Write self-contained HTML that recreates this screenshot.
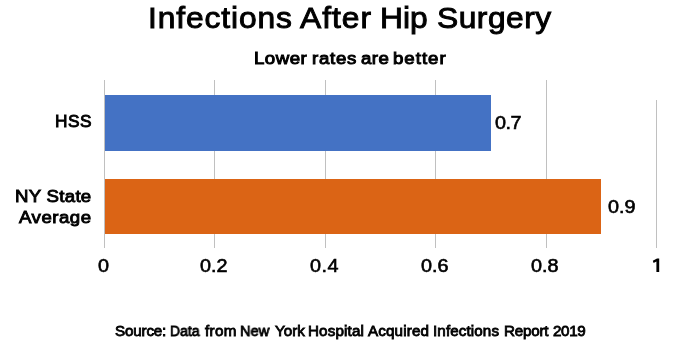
<!DOCTYPE html>
<html><head><meta charset="utf-8">
<style>
html,body{margin:0;padding:0;background:#fff;}
body{width:700px;height:363px;position:relative;overflow:hidden;font-family:"Liberation Sans",sans-serif;color:#000;}
.t{position:absolute;white-space:nowrap;line-height:1;font-weight:normal;will-change:transform;}
.g{position:absolute;width:1px;background:#c0c0c0;}
.bar{position:absolute;}
</style></head><body>
<div class="g" style="left:104px;top:80px;height:168px;"></div>
<div class="g" style="left:214px;top:80px;height:168px;"></div>
<div class="g" style="left:325px;top:80px;height:168px;"></div>
<div class="g" style="left:435px;top:80px;height:168px;"></div>
<div class="g" style="left:546px;top:80px;height:168px;"></div>
<div class="g" style="left:656px;top:100px;height:148px;"></div>
<div class="bar" style="left:105px;top:95px;width:386px;height:56px;background:#4472c4;"></div>
<div class="bar" style="left:105px;top:179px;width:496px;height:55px;background:#db6415;"></div>
<svg style="position:absolute;left:0;top:0;" width="700" height="363" viewBox="0 0 700 363"><path d="M657.0 258.5 L659.2 258.5 L659.2 271.9 L656.4 271.9 L656.4 261.4 L653.6 263.0 L652.8 260.7 Z" fill="#000"/></svg>
<div class="t" style="left:148.00px;top:3.20px;font-size:30.25px;-webkit-text-stroke:0.95px #000;font-weight:normal;letter-spacing:0.847px;transform:scaleX(1.05);transform-origin:0 0;">Infections</div>
<div class="t" style="left:300.00px;top:3.20px;font-size:30.25px;-webkit-text-stroke:0.95px #000;font-weight:normal;letter-spacing:0.952px;transform:scaleX(1.05);transform-origin:0 0;">After</div>
<div class="t" style="left:380.00px;top:3.20px;font-size:30.25px;-webkit-text-stroke:0.95px #000;font-weight:normal;letter-spacing:0.000px;transform:scaleX(1.05);transform-origin:0 0;">Hip</div>
<div class="t" style="left:437.00px;top:3.20px;font-size:30.25px;-webkit-text-stroke:0.95px #000;font-weight:normal;letter-spacing:0.476px;transform:scaleX(1.05);transform-origin:0 0;">Surgery</div>
<div class="t" style="left:254.00px;top:49.90px;font-size:17.25px;-webkit-text-stroke:1.0px #000;font-weight:normal;letter-spacing:0.463px;transform:scaleX(1.08);transform-origin:0 0;">Lower</div>
<div class="t" style="left:312.00px;top:49.90px;font-size:17.25px;-webkit-text-stroke:1.0px #000;font-weight:normal;letter-spacing:0.694px;transform:scaleX(1.08);transform-origin:0 0;">rates</div>
<div class="t" style="left:361.00px;top:49.90px;font-size:17.25px;-webkit-text-stroke:1.0px #000;font-weight:normal;letter-spacing:0.463px;transform:scaleX(1.08);transform-origin:0 0;">are</div>
<div class="t" style="left:393.00px;top:49.90px;font-size:17.25px;-webkit-text-stroke:1.0px #000;font-weight:normal;letter-spacing:0.926px;transform:scaleX(1.08);transform-origin:0 0;">better</div>
<div class="t" style="left:55.00px;top:112.90px;font-size:17.25px;-webkit-text-stroke:0.9px #000;font-weight:normal;letter-spacing:0.500px;">HSS</div>
<div class="t" style="left:15.00px;top:187.80px;font-size:17.25px;-webkit-text-stroke:0.9px #000;font-weight:normal;letter-spacing:0.265px;transform:scaleX(1.08);transform-origin:0 0;">NY State</div>
<div class="t" style="left:19.00px;top:209.40px;font-size:17.25px;-webkit-text-stroke:0.9px #000;font-weight:normal;letter-spacing:0.463px;transform:scaleX(1.08);transform-origin:0 0;">Average</div>
<div class="t" style="left:495.00px;top:114.60px;font-size:17.5px;-webkit-text-stroke:0.6px #000;font-weight:normal;letter-spacing:-0.442px;transform:scaleX(1.13);transform-origin:0 0;">0.7</div>
<div class="t" style="left:608.00px;top:198.50px;font-size:17.5px;-webkit-text-stroke:0.6px #000;font-weight:normal;letter-spacing:0.000px;transform:scaleX(1.13);transform-origin:0 0;">0.9</div>
<div class="t" style="left:98.00px;top:257.50px;font-size:17.5px;-webkit-text-stroke:0.6px #000;font-weight:normal;letter-spacing:0.000px;transform:scaleX(1.13);transform-origin:0 0;">0</div>
<div class="t" style="left:200.00px;top:257.50px;font-size:17.5px;-webkit-text-stroke:0.6px #000;font-weight:normal;letter-spacing:0.000px;transform:scaleX(1.13);transform-origin:0 0;">0.2</div>
<div class="t" style="left:310.00px;top:257.50px;font-size:17.5px;-webkit-text-stroke:0.6px #000;font-weight:normal;letter-spacing:0.442px;transform:scaleX(1.13);transform-origin:0 0;">0.4</div>
<div class="t" style="left:421.00px;top:257.50px;font-size:17.5px;-webkit-text-stroke:0.6px #000;font-weight:normal;letter-spacing:0.000px;transform:scaleX(1.13);transform-origin:0 0;">0.6</div>
<div class="t" style="left:531.00px;top:257.50px;font-size:17.5px;-webkit-text-stroke:0.6px #000;font-weight:normal;letter-spacing:0.000px;transform:scaleX(1.13);transform-origin:0 0;">0.8</div>
<div class="t" style="left:115.00px;top:323.00px;font-size:15.2px;-webkit-text-stroke:0.85px #000;font-weight:normal;letter-spacing:-0.167px;">Source:</div>
<div class="t" style="left:170.00px;top:323.00px;font-size:15.2px;-webkit-text-stroke:0.85px #000;font-weight:normal;letter-spacing:0.000px;transform:scaleX(0.92);transform-origin:0 0;">Data</div>
<div class="t" style="left:205.00px;top:323.00px;font-size:15.2px;-webkit-text-stroke:0.85px #000;font-weight:normal;letter-spacing:0.333px;">from</div>
<div class="t" style="left:240.00px;top:323.00px;font-size:15.2px;-webkit-text-stroke:0.85px #000;font-weight:normal;letter-spacing:0.000px;transform:scaleX(0.96);transform-origin:0 0;">New</div>
<div class="t" style="left:275.00px;top:323.00px;font-size:15.2px;-webkit-text-stroke:0.85px #000;font-weight:normal;letter-spacing:0.000px;">York</div>
<div class="t" style="left:308.00px;top:323.00px;font-size:15.2px;-webkit-text-stroke:0.85px #000;font-weight:normal;letter-spacing:0.143px;">Hospital</div>
<div class="t" style="left:368.00px;top:323.00px;font-size:15.2px;-webkit-text-stroke:0.85px #000;font-weight:normal;letter-spacing:0.143px;">Acquired</div>
<div class="t" style="left:433.00px;top:323.00px;font-size:15.2px;-webkit-text-stroke:0.85px #000;font-weight:normal;letter-spacing:0.111px;">Infections</div>
<div class="t" style="left:504.00px;top:323.00px;font-size:15.2px;-webkit-text-stroke:0.85px #000;font-weight:normal;letter-spacing:-0.200px;">Report</div>
<div class="t" style="left:553.00px;top:323.00px;font-size:15.2px;-webkit-text-stroke:0.85px #000;font-weight:normal;letter-spacing:-0.333px;">2019</div>
</body></html>
